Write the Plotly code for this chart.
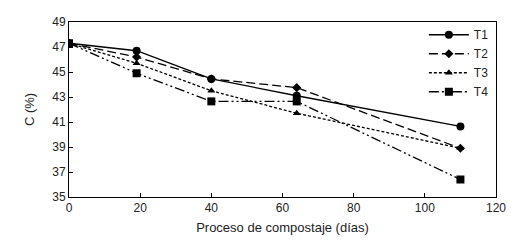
import plotly.graph_objects as go

days = [0, 19, 40, 64, 110]
t1 = [47.3, 46.7, 44.45, 43.1, 40.65]
t2 = [47.3, 46.2, 44.45, 43.75, 38.9]
t3 = [47.3, 45.7, 43.5, 41.7, 38.9]
t4 = [47.3, 44.9, 42.65, 42.65, 36.4]
names = ["T1", "T2", "T3", "T4"]

styles = [
    dict(dash="solid", symbol="circle", size=8),
    dict(dash="9px,4px", symbol="diamond", size=7),
    dict(dash="3px,2px", symbol="triangle-up", size=7),
    dict(dash="10px,3px,2px,3px,2px,3px", symbol="square", size=8),
]

FONT = "Liberation Sans, Arial"

fig = go.Figure()
for name, ys, st in zip(names, [t1, t2, t3, t4], styles):
    fig.add_trace(go.Scatter(
        x=days, y=ys, name=name, mode="lines+markers",
        line=dict(color="black", width=1.3, dash=st["dash"]),
        marker=dict(color="black", symbol=st["symbol"], size=st["size"]),
    ))

axis_common = dict(
    showline=True, linecolor="black", linewidth=1, mirror=True,
    ticks="inside", ticklen=4, tickcolor="black", showgrid=False, zeroline=False,
    automargin=False,
    tickfont=dict(family=FONT, size=12, color="#222"),
)
fig.update_xaxes(range=[0, 120], dtick=20, tick0=0,
                 title=dict(text="Proceso de compostaje (días)", standoff=8,
                            font=dict(family=FONT, size=13, color="#222")),
                 **axis_common)
fig.update_yaxes(range=[35, 49], dtick=2, tick0=35,
                 title=dict(text="C (%)", standoff=14,
                            font=dict(family=FONT, size=13, color="#222")),
                 **axis_common)
fig.update_layout(
    width=524, height=241,
    margin=dict(l=61, r=36, t=12, b=52),
    paper_bgcolor="white", plot_bgcolor="white",
    showlegend=True,
    legend=dict(x=0.995, y=1.01, xanchor="right", yanchor="top",
                bgcolor="rgba(0,0,0,0)", borderwidth=0,
                font=dict(family=FONT, size=12, color="#222"),
                tracegroupgap=0, itemwidth=40),
)
fig.write_html("out.html")
